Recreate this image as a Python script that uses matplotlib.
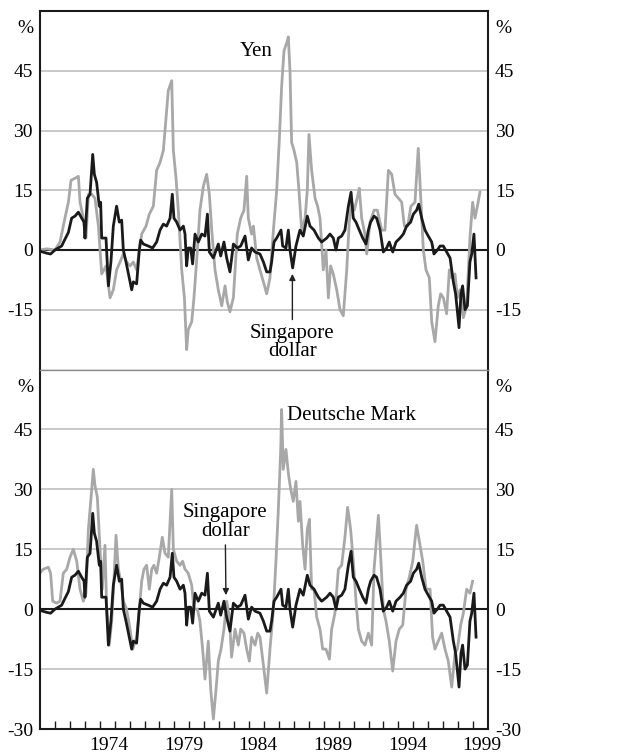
import matplotlib

matplotlib.use("Agg")
import matplotlib.pyplot as plt
from matplotlib.ticker import FixedLocator, NullFormatter

plt.rcParams["font.family"] = ["Liberation Serif", "DejaVu Serif"]

# ---------------------------------------------------------------------------
# Data: 12-month % change against the US dollar
# ---------------------------------------------------------------------------
SGD_YEAR = [
    1970.00, 1970.45, 1970.71, 1971.00, 1971.45, 1971.67, 1971.90, 1972.12,
    1972.34, 1972.57, 1972.79, 1972.95, 1973.01, 1973.17, 1973.35, 1973.53,
    1973.64, 1973.79, 1973.97, 1974.06, 1974.13, 1974.42, 1974.58, 1974.75,
    1974.91, 1975.13, 1975.31, 1975.47, 1975.58, 1975.76, 1975.92, 1976.14,
    1976.25, 1976.47, 1976.65, 1976.74, 1976.92, 1977.25, 1977.54, 1977.81,
    1978.04, 1978.26, 1978.48, 1978.71, 1978.86, 1978.97, 1979.15, 1979.38,
    1979.60, 1979.71, 1979.82, 1979.93, 1980.09, 1980.22, 1980.38, 1980.60,
    1980.83, 1981.05, 1981.21, 1981.34, 1981.61, 1981.94, 1982.10, 1982.32,
    1982.50, 1982.72, 1982.95, 1983.21, 1983.44, 1983.73, 1983.95, 1984.17,
    1984.40, 1984.73, 1984.96, 1985.18, 1985.40, 1985.51, 1985.67, 1985.85,
    1986.14, 1986.25, 1986.47, 1986.63, 1986.74, 1986.92, 1987.14, 1987.41,
    1987.63, 1987.90, 1988.08, 1988.35, 1988.64, 1988.86, 1989.20, 1989.42,
    1989.64, 1989.82, 1989.98, 1990.20, 1990.42, 1990.65, 1990.83, 1990.98,
    1991.16, 1991.38, 1991.61, 1991.83, 1991.99, 1992.14, 1992.37, 1992.54,
    1992.77, 1992.99, 1993.21, 1993.39, 1993.62, 1993.84, 1994.11, 1994.33,
    1994.55, 1994.82, 1995.00, 1995.22, 1995.36, 1995.56, 1995.78, 1996.00,
    1996.23, 1996.38, 1996.61, 1996.79, 1997.01, 1997.23, 1997.46, 1997.68,
    1997.83, 1998.06, 1998.19, 1998.30, 1998.46, 1998.62, 1998.79, 1998.91,
    1999.06, 1999.20,
]
SGD_PCT = [
    -0.3, -0.8, -1.0, 0.0, 1.0, 2.7, 4.4, 8.0,
    8.5, 9.5, 8.0, 7.0, 3.0, 13.0, 14.0, 24.0,
    19.0, 17.0, 11.0, 12.0, 3.0, 3.0, -9.0, -3.0,
    6.0, 11.0, 7.0, 7.5, 0.0, -3.0, -6.0, -10.0,
    -8.0, -8.5, 0.0, 2.5, 1.5, 1.0, 0.5, 2.0,
    5.0, 6.5, 6.0, 8.0, 14.0, 8.0, 7.0, 5.0,
    6.0, 4.0, -4.0, 0.5, 0.5, -3.5, 4.0, 2.0,
    4.0, 3.5, 9.0, -0.5, -2.0, 1.5, -1.5, 2.0,
    -2.0, -5.5, 1.5, 0.5, 1.0, 3.5, -2.5, 0.5,
    -0.5, -1.0, -3.0, -5.5, -5.5, -3.0, 2.0, 3.0,
    5.0, 1.0, 0.5, 5.0, 0.0, -4.5, 1.0, 5.0,
    3.5, 8.5, 6.0, 5.0, 3.0, 2.0, 3.0, 4.0,
    3.0, 0.0, 3.0, 3.5, 5.0, 11.0, 14.5, 8.0,
    7.0, 5.0, 3.0, 1.5, 5.0, 7.0, 8.5, 8.0,
    5.0, -0.5, 0.5, 2.0, -0.5, 2.0, 3.0, 4.0,
    6.0, 7.0, 9.0, 10.0, 11.5, 8.0, 5.0, 3.5,
    2.0, -1.0, 0.0, 1.0, 1.0, -0.5, -2.0, -8.0,
    -11.0, -19.5, -11.0, -9.0, -15.0, -14.0, -3.0, -1.0,
    4.0, -7.0,
]

YEN_YEAR = [
    1970.00, 1970.45, 1971.00, 1971.34, 1971.67, 1971.90, 1972.08, 1972.34,
    1972.57, 1972.68, 1972.90, 1973.08, 1973.24, 1973.46, 1973.68, 1973.91,
    1974.13, 1974.42, 1974.69, 1974.91, 1975.13, 1975.36, 1975.58, 1975.80,
    1976.03, 1976.25, 1976.47, 1976.65, 1976.81, 1977.10, 1977.32, 1977.59,
    1977.81, 1978.04, 1978.26, 1978.48, 1978.59, 1978.82, 1978.93, 1979.11,
    1979.26, 1979.49, 1979.67, 1979.82, 1979.93, 1980.16, 1980.31, 1980.54,
    1980.71, 1980.94, 1981.16, 1981.34, 1981.50, 1981.72, 1981.94, 1982.17,
    1982.39, 1982.54, 1982.72, 1982.95, 1983.21, 1983.44, 1983.66, 1983.84,
    1983.95, 1984.17, 1984.29, 1984.51, 1984.73, 1984.96, 1985.18, 1985.40,
    1985.63, 1985.85, 1986.03, 1986.18, 1986.34, 1986.52, 1986.63, 1986.74,
    1986.85, 1987.01, 1987.19, 1987.34, 1987.52, 1987.75, 1987.90, 1988.01,
    1988.19, 1988.42, 1988.59, 1988.75, 1988.97, 1989.15, 1989.31, 1989.46,
    1989.64, 1989.87, 1990.09, 1990.31, 1990.54, 1990.71, 1990.87, 1991.05,
    1991.27, 1991.38, 1991.54, 1991.76, 1991.88, 1992.10, 1992.37, 1992.59,
    1992.88, 1993.10, 1993.33, 1993.55, 1993.77, 1994.00, 1994.22, 1994.40,
    1994.62, 1994.84, 1995.11, 1995.33, 1995.51, 1995.67, 1995.85, 1996.07,
    1996.23, 1996.45, 1996.67, 1996.83, 1997.01, 1997.23, 1997.41, 1997.57,
    1997.79, 1997.95, 1998.13, 1998.35, 1998.57, 1998.79, 1998.97, 1999.13,
    1999.29, 1999.46,
]
YEN_PCT = [
    0.0, 0.3, 0.0, 2.0, 8.0, 12.0, 17.5, 18.0,
    18.5, 12.0, 8.0, 3.0, 14.0, 14.0, 13.0, 6.0,
    -6.0, -4.0, -12.0, -10.0, -5.0, -3.0, -1.0, -3.0,
    -4.0, -3.0, -5.0, 0.0, 4.0, 6.0, 9.0, 11.0,
    20.0, 22.0, 25.0, 35.0, 40.0, 42.5, 25.0, 18.0,
    10.0, -5.0, -12.0, -25.0, -20.0, -18.0, -12.0, 0.0,
    10.0, 16.0, 19.0, 14.0, 5.0, -5.0, -10.0, -14.0,
    -9.0, -13.0, -15.5, -12.0, 4.0, 8.0, 10.0, 18.5,
    8.0, 4.0, 6.0, -2.0, -5.0, -8.0, -11.0, -7.0,
    5.0, 15.0, 28.0, 41.0, 50.0, 52.0, 53.5, 45.0,
    27.0, 25.0, 22.0, 15.0, 5.0, 8.0, 15.0, 29.0,
    20.0, 13.0, 11.0, 8.0, -5.0, 0.0, -12.0, -4.0,
    -6.0, -10.0, -15.0, -16.5, -5.0, 7.0, 12.0, 10.0,
    13.5, 15.5, 8.0, 4.0, -1.0, 7.0, 10.0, 10.0,
    5.0, 5.0, 20.0, 19.0, 14.0, 13.0, 12.0, 6.0,
    6.0, 11.0, 12.0, 25.5, 12.0, 0.0, -5.0, -7.0,
    -18.0, -23.0, -14.0, -11.0, -12.0, -16.0, -5.0, -7.0,
    -6.0, -12.0, -10.0, -17.0, -14.0, 3.0, 12.0, 8.0,
    11.0, 14.5,
]

DM_YEAR = [
    1970.00, 1970.22, 1970.56, 1970.71, 1970.85, 1971.12, 1971.34, 1971.56,
    1971.79, 1972.01, 1972.23, 1972.46, 1972.68, 1972.90, 1973.08, 1973.24,
    1973.42, 1973.57, 1973.68, 1973.84, 1974.02, 1974.17, 1974.35, 1974.46,
    1974.64, 1974.80, 1974.96, 1975.09, 1975.25, 1975.40, 1975.58, 1975.80,
    1976.03, 1976.21, 1976.47, 1976.65, 1976.81, 1976.96, 1977.14, 1977.32,
    1977.48, 1977.63, 1977.81, 1977.99, 1978.19, 1978.37, 1978.59, 1978.82,
    1978.93, 1979.15, 1979.38, 1979.55, 1979.71, 1979.93, 1980.16, 1980.31,
    1980.54, 1980.71, 1980.89, 1981.05, 1981.27, 1981.43, 1981.61, 1981.79,
    1981.94, 1982.12, 1982.32, 1982.50, 1982.68, 1982.83, 1983.06, 1983.28,
    1983.44, 1983.66, 1983.84, 1984.02, 1984.17, 1984.40, 1984.58, 1984.73,
    1984.96, 1985.18, 1985.40, 1985.63, 1985.80, 1985.96, 1986.12, 1986.18,
    1986.29, 1986.47, 1986.63, 1986.79, 1986.96, 1987.14, 1987.30, 1987.41,
    1987.59, 1987.75, 1987.90, 1988.04, 1988.19, 1988.35, 1988.53, 1988.75,
    1988.93, 1989.15, 1989.38, 1989.53, 1989.75, 1989.98, 1990.20, 1990.42,
    1990.60, 1990.80, 1990.98, 1991.16, 1991.32, 1991.54, 1991.76, 1991.99,
    1992.21, 1992.37, 1992.54, 1992.66, 1992.83, 1992.99, 1993.17, 1993.39,
    1993.62, 1993.84, 1994.06, 1994.29, 1994.51, 1994.73, 1994.96, 1995.22,
    1995.45, 1995.63, 1995.85, 1996.12, 1996.29, 1996.45, 1996.67, 1996.90,
    1997.12, 1997.34, 1997.57, 1997.79, 1997.95, 1998.17, 1998.35, 1998.57,
    1998.79, 1998.97,
]
DM_PCT = [
    9.0, 10.0, 10.5, 9.0, 2.0, 1.5, 2.0, 9.0,
    10.0, 13.0, 15.0, 12.0, 5.0, 2.0, 4.0, 20.0,
    28.0, 35.0, 31.0, 28.0, 15.0, 5.0, 16.0, 1.0,
    -9.0, -3.0, 8.0, 18.5, 10.0, 7.0, 2.0, 0.0,
    -5.0, -10.0, -7.0, 0.0, 7.0, 10.0, 11.0, 5.0,
    10.0, 11.0, 9.0, 13.0, 18.0, 14.0, 13.0, 30.0,
    15.0, 12.0, 11.0, 12.0, 10.0, 9.0, 6.0, 0.0,
    0.0, -3.0, -10.0, -17.5, -8.0, -20.0, -27.5, -20.0,
    -13.0, -10.0, -5.0, 2.0, -2.0, -12.0, -5.0, -9.0,
    -5.0, -6.0, -10.0, -13.0, -7.0, -9.0, -6.0, -7.0,
    -14.0, -21.0, -10.0, 0.0, 12.0, 25.0, 40.0, 50.0,
    35.0, 40.0, 34.0, 30.0, 27.0, 32.0, 22.0, 27.0,
    16.0, 10.0, 20.0, 22.5, 5.0, 5.0, -2.0, -5.0,
    -10.0, -10.0, -12.5, -5.0, -1.0, 10.0, 11.0, 18.0,
    25.5, 20.0, 12.0, 2.0, -5.0, -8.0, -9.0, -6.0,
    -9.0, 10.0, 18.0, 23.5, 12.0, 0.0, -3.0, -8.0,
    -15.5, -8.0, -5.0, -4.0, 5.0, 8.0, 12.0, 21.0,
    16.0, 12.0, 5.0, 5.0, -7.0, -10.0, -8.0, -6.0,
    -10.0, -13.0, -19.5, -11.0, -10.0, -4.0, -1.0, 5.0,
    4.0, 7.0,
]

TOP_TICKS = [-15, 0, 15, 30, 45]
BOTTOM_TICKS = [-30, -15, 0, 15, 30, 45]
GRID_LEVELS = [-15, 15, 30, 45]
YEAR_TICKS = list(range(1971, 2000))
YEAR_LABELS = ["1974", "1979", "1984", "1989", "1994", "1999"]

GREY = "#a8a8a8"
BLACK = "#1a1a1a"
FS = 14


def style_panel(ax, yticks):
    ax.set_xlim(1970, 2000)
    ax.set_ylim(-30, 60)
    for lvl in GRID_LEVELS:
        ax.axhline(lvl, color="#c4c4c4", lw=1.3, zorder=0)
    ax.axhline(0, color=BLACK, lw=1.5, zorder=1)
    ax.set_yticks(yticks)
    ax.set_yticklabels([str(t) for t in yticks])
    ax.tick_params(axis="y", length=0, labelleft=True, labelright=True,
                   pad=5, labelsize=FS)
    for side in ("left", "right", "top", "bottom"):
        ax.spines[side].set_color(BLACK)
        ax.spines[side].set_linewidth(1.5)
    # "%" unit marks above the tick labels, both sides
    tr = ax.get_yaxis_transform()
    ax.annotate("%", xy=(0, 55.5), xycoords=tr, xytext=(-5, 0),
                textcoords="offset points", ha="right", va="center",
                fontsize=FS)
    ax.annotate("%", xy=(1, 55.5), xycoords=tr, xytext=(5, 0),
                textcoords="offset points", ha="left", va="center",
                fontsize=FS)


def arrow_label(ax, text_xy, tip_xy):
    ax.annotate("Singapore\ndollar", xy=tip_xy, xytext=text_xy,
                ha="center", va="center", fontsize=15, linespacing=0.95,
                arrowprops=dict(arrowstyle="-|>", color="#222222", lw=1.0,
                                mutation_scale=9, shrinkA=1, shrinkB=0))


def main():
    fig = plt.figure(figsize=(6.18, 7.56), dpi=100)
    w = 448 / 618
    ax_top = fig.add_axes([40 / 618, 1 - 369.5 / 756, w, 358.5 / 756])
    ax_bot = fig.add_axes([40 / 618, 1 - 729 / 756, w, 359.5 / 756])

    # --- top panel: yen ------------------------------------------------------
    style_panel(ax_top, TOP_TICKS)
    ax_top.plot(YEN_YEAR, YEN_PCT, color=GREY, lw=2.0, zorder=2)
    ax_top.plot(SGD_YEAR, SGD_PCT, color=BLACK, lw=2.0, zorder=3)
    ax_top.tick_params(axis="x", which="both", bottom=False,
                       labelbottom=False)
    ax_top.spines["bottom"].set_color("#8a8a8a")
    ax_top.spines["bottom"].set_linewidth(1.0)
    ax_top.text(1984.5, 49.8, "Yen", ha="center", va="center", fontsize=15)
    arrow_label(ax_top, (1986.9, -23.2), (1986.9, -6.0))

    # --- bottom panel: deutsche mark -----------------------------------------
    style_panel(ax_bot, BOTTOM_TICKS)
    ax_bot.plot(DM_YEAR, DM_PCT, color=GREY, lw=2.0, zorder=2)
    ax_bot.plot(SGD_YEAR, SGD_PCT, color=BLACK, lw=2.0, zorder=3)
    ax_bot.spines["top"].set_color("#8a8a8a")
    ax_bot.spines["top"].set_linewidth(1.0)
    ax_bot.text(1986.55, 48.5, "Deutsche Mark", ha="left", va="center",
                fontsize=15)
    arrow_label(ax_bot, (1982.4, 21.8), (1982.45, 3.5))

    # year ticks point inwards, labels sit between the ticks
    ax_bot.xaxis.set_minor_locator(FixedLocator(YEAR_TICKS))
    ax_bot.xaxis.set_minor_formatter(NullFormatter())
    ax_bot.set_xticks([int(y) + 0.6 for y in YEAR_LABELS])
    ax_bot.set_xticklabels(YEAR_LABELS)
    ax_bot.tick_params(axis="x", which="major", length=0, pad=6,
                       labelsize=FS)
    ax_bot.tick_params(axis="x", which="minor", direction="in", length=6,
                       width=1.0, color=BLACK)

    fig.savefig("out.png", dpi=100)
    plt.close(fig)


if __name__ == "__main__":
    main()
